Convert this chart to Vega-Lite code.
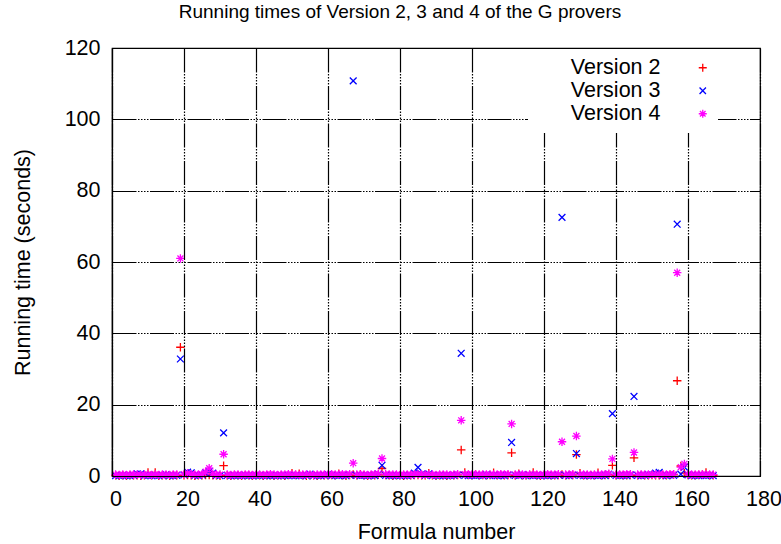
{
  "$schema": "https://vega.github.io/schema/vega-lite/v6.json",
  "width": 648,
  "height": 428,
  "autosize": {"type": "none"},
  "padding": {"left": 112, "top": 48, "right": 21, "bottom": 68},
  "background": "white",
  "title": {"text": "Running times of Version 2, 3 and 4 of the G provers", "font": "Liberation Sans", "fontSize": 19, "fontWeight": "normal", "color": "black", "baseline": "alphabetic", "offset": 0, "dx": -36, "anchor": "middle", "frame": "group"},
  "config": {"view": {"stroke": "black", "strokeWidth": 1.2}},
  "data": {"values": [
    {"f":1,"v2":0.2,"v3":0.1,"v4":0.4},{"f":2,"v2":0.1,"v3":0.1,"v4":0.3},{"f":3,"v2":0.2,"v3":0.2,"v4":0.4},{"f":4,"v2":0.1,"v3":0.1,"v4":0.3},{"f":5,"v2":0.2,"v3":0.1,"v4":0.4},
    {"f":6,"v2":0.2,"v3":0.2,"v4":0.4},{"f":7,"v2":0.2,"v3":0.6,"v4":0.4},{"f":8,"v2":0.1,"v3":0.6,"v4":0.3},{"f":9,"v2":0.2,"v3":0.1,"v4":0.4},{"f":10,"v2":1.0,"v3":0.2,"v4":0.4},
    {"f":11,"v2":0.2,"v3":0.1,"v4":0.3},{"f":12,"v2":1.0,"v3":0.2,"v4":0.4},{"f":13,"v2":0.1,"v3":0.1,"v4":0.3},{"f":14,"v2":0.2,"v3":0.2,"v4":0.4},{"f":15,"v2":0.2,"v3":0.4,"v4":0.4},
    {"f":16,"v2":0.1,"v3":0.1,"v4":0.3},{"f":17,"v2":0.2,"v3":0.1,"v4":0.4},{"f":18,"v2":0.2,"v3":0.2,"v4":0.4},{"f":19,"v2":36.1,"v3":32.8,"v4":61.0},{"f":20,"v2":0.2,"v3":0.3,"v4":0.5},
    {"f":21,"v2":0.3,"v3":1.1,"v4":0.8},{"f":22,"v2":0.2,"v3":0.9,"v4":0.5},{"f":23,"v2":0.1,"v3":0.2,"v4":0.4},{"f":24,"v2":0.2,"v3":0.1,"v4":0.4},{"f":25,"v2":0.2,"v3":0.3,"v4":0.5},
    {"f":26,"v2":0.3,"v3":0.9,"v4":1.2},{"f":27,"v2":0.3,"v3":1.3,"v4":2.2},{"f":28,"v2":0.2,"v3":0.8,"v4":0.6},{"f":29,"v2":0.2,"v3":0.2,"v4":0.4},{"f":30,"v2":0.1,"v3":0.1,"v4":0.4},
    {"f":31,"v2":2.9,"v3":12.1,"v4":6.1},{"f":32,"v2":0.2,"v3":0.2,"v4":0.4},{"f":33,"v2":0.1,"v3":0.1,"v4":0.3},{"f":34,"v2":0.2,"v3":0.1,"v4":0.4},{"f":35,"v2":0.2,"v3":0.2,"v4":0.4},
    {"f":36,"v2":0.1,"v3":0.1,"v4":0.3},{"f":37,"v2":0.2,"v3":0.2,"v4":0.4},{"f":38,"v2":0.2,"v3":0.1,"v4":0.4},{"f":39,"v2":0.1,"v3":0.1,"v4":0.3},{"f":40,"v2":0.2,"v3":0.2,"v4":0.4},
    {"f":41,"v2":0.2,"v3":0.1,"v4":0.4},{"f":42,"v2":0.1,"v3":0.2,"v4":0.3},{"f":43,"v2":0.2,"v3":0.1,"v4":0.4},{"f":44,"v2":0.2,"v3":0.1,"v4":0.5},{"f":45,"v2":0.1,"v3":0.2,"v4":0.4},
    {"f":46,"v2":0.2,"v3":0.1,"v4":0.3},{"f":47,"v2":0.2,"v3":0.1,"v4":0.4},{"f":48,"v2":0.1,"v3":0.2,"v4":0.4},{"f":49,"v2":0.3,"v3":0.1,"v4":0.5},{"f":50,"v2":0.8,"v3":0.2,"v4":0.4},
    {"f":51,"v2":0.3,"v3":0.1,"v4":0.4},{"f":52,"v2":0.6,"v3":0.1,"v4":0.3},{"f":53,"v2":0.2,"v3":0.2,"v4":0.4},{"f":54,"v2":0.1,"v3":0.1,"v4":0.4},{"f":55,"v2":0.2,"v3":0.5,"v4":0.4},
    {"f":56,"v2":0.2,"v3":0.1,"v4":0.3},{"f":57,"v2":0.1,"v3":0.2,"v4":0.4},{"f":58,"v2":0.2,"v3":0.1,"v4":0.4},{"f":59,"v2":0.2,"v3":0.2,"v4":0.4},{"f":60,"v2":0.2,"v3":0.4,"v4":0.4},
    {"f":61,"v2":0.3,"v3":0.1,"v4":0.5},{"f":62,"v2":0.2,"v3":0.2,"v4":0.4},{"f":63,"v2":0.6,"v3":0.1,"v4":0.4},{"f":64,"v2":0.2,"v3":0.2,"v4":0.5},{"f":65,"v2":0.1,"v3":0.1,"v4":0.4},
    {"f":66,"v2":0.3,"v3":0.3,"v4":0.5},{"f":67,"v2":0.4,"v3":110.8,"v4":3.6},{"f":68,"v2":0.2,"v3":0.2,"v4":0.4},{"f":69,"v2":0.5,"v3":0.1,"v4":0.4},{"f":70,"v2":0.2,"v3":0.2,"v4":0.4},
    {"f":71,"v2":0.1,"v3":0.1,"v4":0.3},{"f":72,"v2":0.2,"v3":0.2,"v4":0.4},{"f":73,"v2":0.2,"v3":0.1,"v4":0.5},{"f":74,"v2":0.4,"v3":0.5,"v4":0.6},{"f":75,"v2":2.1,"v3":3.0,"v4":4.9},
    {"f":76,"v2":0.3,"v3":0.2,"v4":0.5},{"f":77,"v2":0.2,"v3":0.1,"v4":0.4},{"f":78,"v2":0.1,"v3":0.2,"v4":0.4},{"f":79,"v2":0.2,"v3":0.1,"v4":0.4},{"f":80,"v2":0.2,"v3":0.1,"v4":0.3},
    {"f":81,"v2":0.1,"v3":0.2,"v4":0.4},{"f":82,"v2":0.2,"v3":0.1,"v4":0.4},{"f":83,"v2":0.2,"v3":0.2,"v4":0.4},{"f":84,"v2":0.3,"v3":0.8,"v4":0.5},{"f":85,"v2":0.3,"v3":2.4,"v4":0.5},
    {"f":86,"v2":0.2,"v3":0.5,"v4":0.4},{"f":87,"v2":0.2,"v3":0.2,"v4":0.4},{"f":88,"v2":0.8,"v3":0.6,"v4":0.4},{"f":89,"v2":0.2,"v3":0.1,"v4":0.4},{"f":90,"v2":0.1,"v3":0.2,"v4":0.3},
    {"f":91,"v2":0.2,"v3":0.1,"v4":0.4},{"f":92,"v2":0.2,"v3":0.1,"v4":0.4},{"f":93,"v2":0.1,"v3":0.2,"v4":0.4},{"f":94,"v2":0.2,"v3":0.1,"v4":0.3},{"f":95,"v2":0.2,"v3":0.2,"v4":0.4},
    {"f":96,"v2":0.3,"v3":0.3,"v4":0.5},{"f":97,"v2":7.3,"v3":34.4,"v4":15.6},{"f":98,"v2":1.0,"v3":0.2,"v4":0.5},{"f":99,"v2":0.3,"v3":0.1,"v4":0.4},{"f":100,"v2":0.2,"v3":0.2,"v4":0.5},
    {"f":101,"v2":0.4,"v3":0.1,"v4":0.4},{"f":102,"v2":0.2,"v3":0.2,"v4":0.4},{"f":103,"v2":0.3,"v3":0.1,"v4":0.4},{"f":104,"v2":0.2,"v3":0.4,"v4":0.4},{"f":105,"v2":0.3,"v3":0.1,"v4":0.4},
    {"f":106,"v2":0.9,"v3":0.2,"v4":0.4},{"f":107,"v2":0.2,"v3":0.1,"v4":0.4},{"f":108,"v2":0.3,"v3":0.2,"v4":0.5},{"f":109,"v2":0.2,"v3":0.1,"v4":0.4},{"f":110,"v2":0.3,"v3":0.3,"v4":0.5},
    {"f":111,"v2":6.5,"v3":9.4,"v4":14.6},{"f":112,"v2":0.2,"v3":0.2,"v4":0.4},{"f":113,"v2":0.6,"v3":0.1,"v4":0.4},{"f":114,"v2":0.2,"v3":0.4,"v4":0.4},{"f":115,"v2":0.2,"v3":0.1,"v4":0.3},
    {"f":116,"v2":0.3,"v3":0.2,"v4":0.4},{"f":117,"v2":1.0,"v3":0.1,"v4":0.4},{"f":118,"v2":0.2,"v3":0.2,"v4":0.4},{"f":119,"v2":0.1,"v3":0.1,"v4":0.3},{"f":120,"v2":0.2,"v3":0.2,"v4":0.4},
    {"f":121,"v2":0.3,"v3":0.1,"v4":0.5},{"f":122,"v2":0.2,"v3":0.2,"v4":0.4},{"f":123,"v2":0.2,"v3":0.1,"v4":0.4},{"f":124,"v2":0.3,"v3":0.3,"v4":0.5},{"f":125,"v2":0.4,"v3":72.5,"v4":9.6},
    {"f":126,"v2":0.2,"v3":0.2,"v4":0.4},{"f":127,"v2":0.3,"v3":0.1,"v4":0.4},{"f":128,"v2":0.3,"v3":0.3,"v4":0.5},{"f":129,"v2":6.0,"v3":6.3,"v4":11.2},{"f":130,"v2":0.8,"v3":0.2,"v4":0.4},
    {"f":131,"v2":0.2,"v3":0.1,"v4":0.4},{"f":132,"v2":0.2,"v3":0.2,"v4":0.4},{"f":133,"v2":0.3,"v3":0.1,"v4":0.3},{"f":134,"v2":0.2,"v3":0.2,"v4":0.4},{"f":135,"v2":0.9,"v3":0.1,"v4":0.4},
    {"f":136,"v2":0.2,"v3":0.2,"v4":0.4},{"f":137,"v2":0.3,"v3":0.1,"v4":0.5},{"f":138,"v2":0.4,"v3":0.5,"v4":0.6},{"f":139,"v2":3.0,"v3":17.5,"v4":4.8},{"f":140,"v2":0.2,"v3":0.2,"v4":0.4},
    {"f":141,"v2":0.3,"v3":0.1,"v4":0.4},{"f":142,"v2":0.2,"v3":0.2,"v4":0.4},{"f":143,"v2":0.2,"v3":0.1,"v4":0.5},{"f":144,"v2":0.3,"v3":0.3,"v4":0.5},{"f":145,"v2":5.1,"v3":22.3,"v4":6.6},
    {"f":146,"v2":0.2,"v3":0.2,"v4":0.4},{"f":147,"v2":0.3,"v3":0.1,"v4":0.4},{"f":148,"v2":0.2,"v3":0.2,"v4":0.4},{"f":149,"v2":0.2,"v3":0.4,"v4":0.4},{"f":150,"v2":0.3,"v3":0.3,"v4":0.4},
    {"f":151,"v2":0.2,"v3":0.8,"v4":0.4},{"f":152,"v2":0.2,"v3":1.0,"v4":0.5},{"f":153,"v2":0.3,"v3":0.2,"v4":0.4},{"f":154,"v2":0.2,"v3":0.1,"v4":0.4},{"f":155,"v2":0.3,"v3":0.3,"v4":0.5},
    {"f":156,"v2":0.4,"v3":0.2,"v4":0.5},{"f":157,"v2":26.7,"v3":70.6,"v4":57.0},{"f":158,"v2":2.8,"v3":0.5,"v4":2.5},{"f":159,"v2":0.8,"v3":2.5,"v4":3.4},{"f":160,"v2":0.3,"v3":0.3,"v4":0.5},
    {"f":161,"v2":0.2,"v3":0.1,"v4":0.4},{"f":162,"v2":0.2,"v3":0.2,"v4":0.4},{"f":163,"v2":0.3,"v3":0.1,"v4":0.4},{"f":164,"v2":0.4,"v3":0.2,"v4":0.4},{"f":165,"v2":1.0,"v3":0.1,"v4":0.4},
    {"f":166,"v2":0.2,"v3":0.2,"v4":0.4},{"f":167,"v2":0.2,"v3":0.1,"v4":0.4}
  ]},
  "transform": [{"fold": ["v2", "v3", "v4"], "as": ["version", "time"]}],
  "mark": {"type": "point", "filled": false, "opacity": 1, "size": 72, "strokeWidth": 1.3},
  "encoding": {
    "x": {
      "field": "f", "type": "quantitative",
      "scale": {"domain": [0, 180], "nice": false, "zero": false},
      "axis": {
        "values": [0, 20, 40, 60, 80, 100, 120, 140, 160, 180],
        "grid": true, "gridColor": "black", "gridWidth": 1.2,
        "gridDash": [24, 1.5, 1.5, 1.5, 1.5, 1.5, 1.5, 1.5, 1.5, 1.5],
        "domain": true, "domainColor": "black", "domainWidth": 1.2,
        "ticks": false, "tickSize": 0, "labelPadding": 12, "labelOffset": 3.5,
        "labelFont": "Liberation Sans", "labelFontSize": 21.5, "labelColor": "black",
        "labelFlush": false, "labelOverlap": false,
        "title": "Formula number", "titleFont": "Liberation Sans", "titleFontSize": 21.5,
        "titleFontWeight": "normal", "titleColor": "black", "titlePadding": 12,
        "zindex": 1
      }
    },
    "y": {
      "field": "time", "type": "quantitative",
      "scale": {"domain": [0, 120], "nice": false},
      "axis": {
        "values": [0, 20, 40, 60, 80, 100, 120],
        "grid": true, "gridColor": "black", "gridWidth": 1.2,
        "gridDash": [24, 1.5, 1.5, 1.5, 1.5, 1.5, 1.5, 1.5, 1.5, 1.5],
        "domain": true, "domainColor": "black", "domainWidth": 1.2,
        "ticks": false, "tickSize": 0, "labelPadding": 12,
        "labelFont": "Liberation Sans", "labelFontSize": 21.5, "labelColor": "black",
        "labelFlush": false, "labelOverlap": false,
        "title": "Running time (seconds)", "titleFont": "Liberation Sans", "titleFontSize": 21.5,
        "titleFontWeight": "normal", "titleColor": "black", "titlePadding": 30,
        "zindex": 1
      }
    },
    "color": {
      "field": "version", "type": "nominal",
      "scale": {"domain": ["v2", "v3", "v4"], "range": ["#ff0000", "#0000ff", "#ff00ff"]},
      "legend": {
        "orient": "none", "legendX": 416, "legendY": 1, "title": null,
        "labelExpr": "'Version ' + substring(datum.label, 1)",
        "labelFont": "Liberation Sans", "labelFontSize": 21.5, "labelColor": "black",
        "labelAlign": "right", "labelOffset": -53, "symbolOffset": 156,
        "symbolSize": 64, "symbolStrokeWidth": 1.3,
        "fillColor": "white", "padding": 8, "rowPadding": 0, "zindex": 2
      }
    },
    "shape": {
      "field": "version", "type": "nominal",
      "scale": {"domain": ["v2", "v3", "v4"], "range": ["M-1,0L1,0M0,-1L0,1", "M-0.8,-0.8L0.8,0.8M-0.8,0.8L0.8,-0.8", "M-1,0L1,0M0,-1L0,1M-0.7,-0.7L0.7,0.7M-0.7,0.7L0.7,-0.7"]}
    },
    "order": {"field": "version", "sort": "ascending"}
  }
}
